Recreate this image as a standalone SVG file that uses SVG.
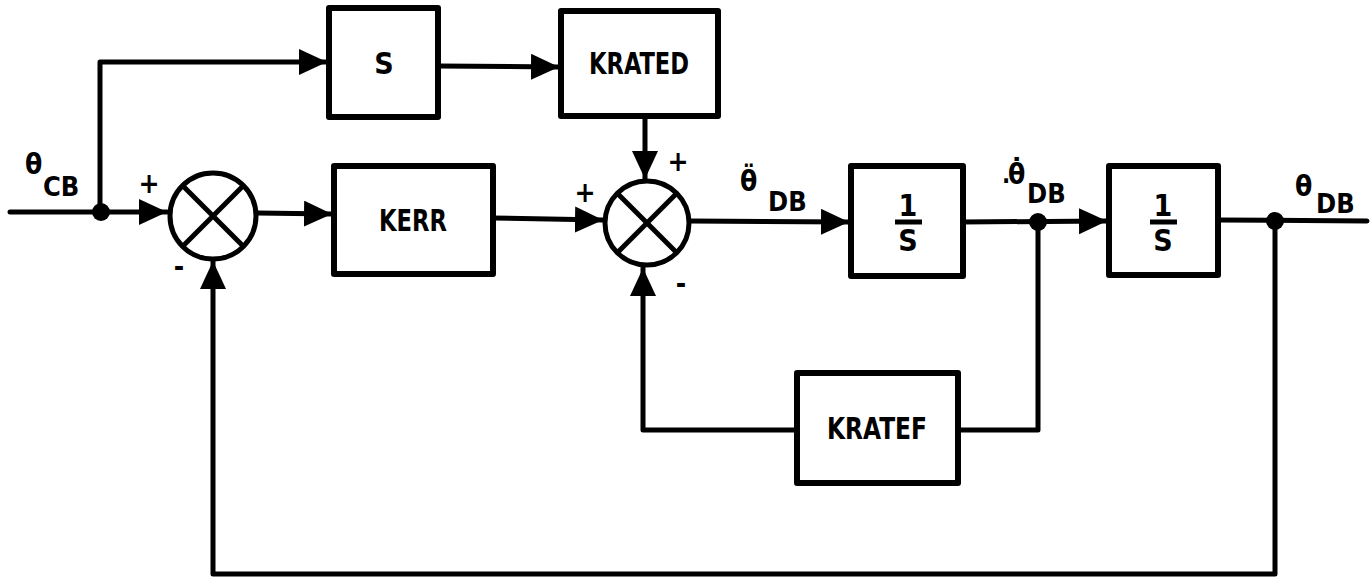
<svg xmlns="http://www.w3.org/2000/svg" width="1370" height="579" viewBox="0 0 1370 579">
<style>
.ln{fill:none;stroke:#000;stroke-width:5;stroke-linejoin:round;stroke-linecap:round}
.box{fill:#fff;stroke:#000;stroke-width:6;stroke-linejoin:round}
.sum{fill:#fff;stroke:#000;stroke-width:5}
.x{stroke:#000;stroke-width:5}
.t{font-family:"DejaVu Sans Condensed","DejaVu Sans",sans-serif;font-weight:bold;fill:#000}
.lbl{font-size:30px;text-anchor:middle}
.sgn{font-size:28px;text-anchor:middle}
.dot{fill:#000}
</style>
<defs>
<marker id="ah" markerUnits="userSpaceOnUse" markerWidth="30" markerHeight="28" refX="28" refY="13" orient="auto">
<path d="M0,0 L28,13 L0,26 Z" fill="#000"/>
</marker>
</defs>
<g id="connectors">
<line class="ln" x1="10" y1="212" x2="167" y2="212" marker-end="url(#ah)"/>
<polyline class="ln" points="100,212 100,62 327,62" marker-end="url(#ah)"/>
<line class="ln" x1="438" y1="66" x2="559" y2="67" marker-end="url(#ah)"/>
<line class="ln" x1="645" y1="116" x2="645" y2="179" marker-end="url(#ah)"/>
<line class="ln" x1="257" y1="213" x2="332" y2="214" marker-end="url(#ah)"/>
<line class="ln" x1="493" y1="218" x2="603" y2="220" marker-end="url(#ah)"/>
<line class="ln" x1="690" y1="221" x2="849" y2="222" marker-end="url(#ah)"/>
<line class="ln" x1="963" y1="222" x2="1107" y2="221" marker-end="url(#ah)"/>
<line class="ln" x1="1218" y1="220" x2="1367" y2="221"/>
<polyline class="ln" points="1038,222 1038,430 958,430"/>
<polyline class="ln" points="797,430 643,430 643,268" marker-end="url(#ah)"/>
<polyline class="ln" points="1275,221 1275,574 213,574 213,261" marker-end="url(#ah)"/>
<circle class="dot" cx="101" cy="212" r="9"/>
<circle class="dot" cx="1038" cy="222" r="9"/>
<circle class="dot" cx="1275" cy="221" r="9"/>
</g>
<g id="sum1">
<circle class="sum" cx="213" cy="216" r="43"/>
<line class="x" x1="183" y1="186" x2="243" y2="246"/>
<line class="x" x1="243" y1="186" x2="183" y2="246"/>
</g>
<g id="sum2">
<circle class="sum" cx="647" cy="223" r="42"/>
<line class="x" x1="617.5" y1="193.5" x2="676.5" y2="252.5"/>
<line class="x" x1="676.5" y1="193.5" x2="617.5" y2="252.5"/>
</g>
<g id="S">
<rect class="box" x="329" y="8" width="109" height="109"/>
<text class="t lbl" x="384" y="74">S</text>
</g>
<g id="KRATED">
<rect class="box" x="561" y="11" width="157" height="105"/>
<text class="t lbl" x="639" y="74" textLength="100" lengthAdjust="spacingAndGlyphs">KRATED</text>
</g>
<g id="KERR">
<rect class="box" x="334" y="166" width="159" height="108"/>
<text class="t lbl" x="413" y="231" textLength="68" lengthAdjust="spacingAndGlyphs">KERR</text>
</g>
<g id="int1">
<rect class="box" x="851" y="166" width="112" height="110"/>
<text class="t" x="908" y="216" font-size="30" text-anchor="middle">1</text>
<line class="x" x1="895" y1="222" x2="922" y2="222" stroke-width="4"/>
<text class="t" x="908" y="251" font-size="30" text-anchor="middle">S</text>
</g>
<g id="int2">
<rect class="box" x="1109" y="166" width="109" height="109"/>
<text class="t" x="1163" y="216" font-size="30" text-anchor="middle">1</text>
<line class="x" x1="1150" y1="222" x2="1177" y2="222" stroke-width="4"/>
<text class="t" x="1163" y="251" font-size="30" text-anchor="middle">S</text>
</g>
<g id="KRATEF">
<rect class="box" x="797" y="373" width="161" height="110"/>
<text class="t lbl" x="877" y="439" textLength="100" lengthAdjust="spacingAndGlyphs">KRATEF</text>
</g>
<g id="labels">
<text class="t" x="25" y="174" font-size="28">θ</text>
<text class="t" x="43" y="196" font-size="27">CB</text>
<text class="t sgn" x="149" y="193">+</text>
<text class="t sgn" x="179" y="276">-</text>
<text class="t sgn" x="585" y="202">+</text>
<text class="t sgn" x="678" y="171">+</text>
<text class="t sgn" x="681" y="293">-</text>
<text class="t" x="740" y="191" font-size="28">θ̈</text>
<text class="t" x="768" y="211" font-size="27">DB</text>
<text class="t" x="1002" y="183" font-size="24">.</text>
<text class="t" x="1008" y="184" font-size="28">θ̇</text>
<text class="t" x="1027" y="203" font-size="27">DB</text>
<text class="t" x="1295" y="196" font-size="28">θ</text>
<text class="t" x="1316" y="213" font-size="27">DB</text>
</g>
</svg>
